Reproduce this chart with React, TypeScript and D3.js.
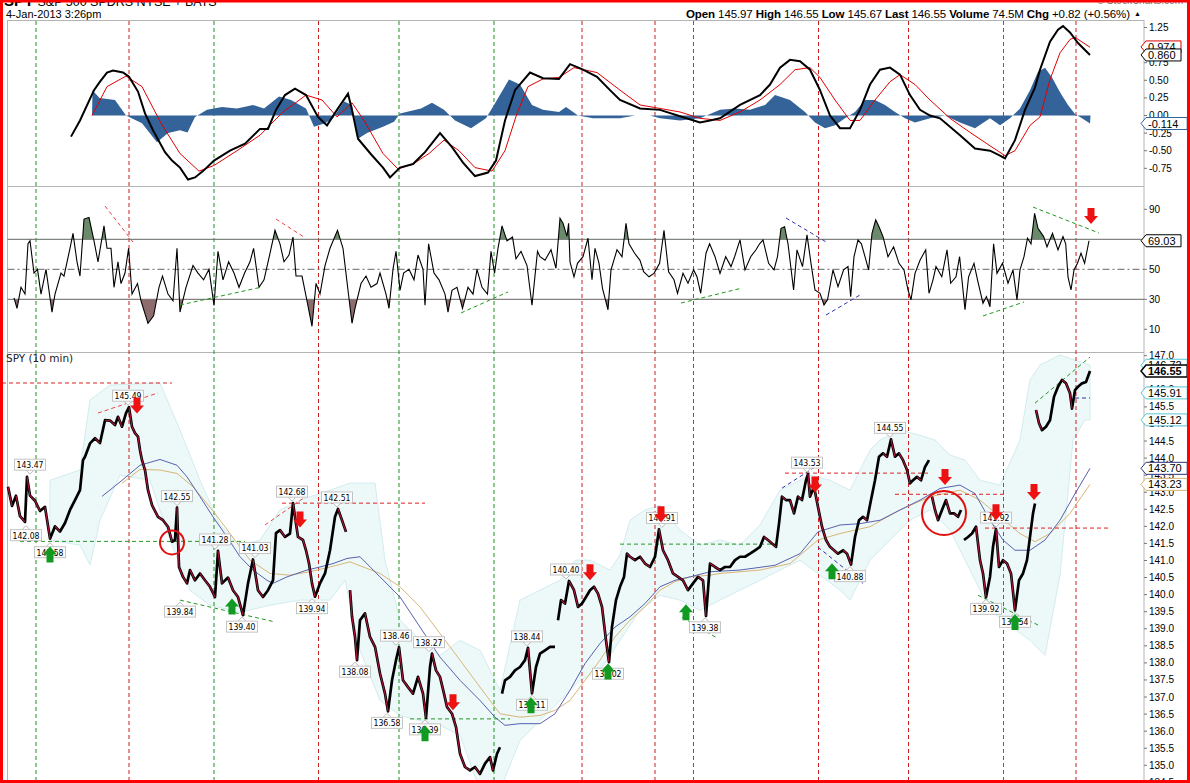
import React from 'react';
import * as d3 from 'd3';

// time axis is in 10-min slot units (0 = first bar on screen)
type Pt = [number, number];
type Px = [number, number | null];

// SPY closes, null = overnight gap
const spyClose: Px[] = [
  [0, 143.16], [4, 142.6], [8, 142.9], [12, 142.3], [17, 142.13], [19, 143.45], [22, 142.9], [27, 142.75],
  [32, 142.45], [37, 142.57], [42, 141.64], [47, 142.0], [52, 141.85], [57, 142.1], [62, 142.48], [67, 142.77],
  [72, 143.06], [75, 143.94], [77, 144.04], [82, 144.43], [87, 144.58], [92, 144.44], [97, 145.11], [102, 145.1],
  [107, 144.97], [110, 145.21], [114, 144.92], [118, 145.32], [121, 145.49], [124, 144.92], [127, 144.73],
  [130, 144.63], [132, 144.23], [134, 143.94], [137, 143.65], [140, 143.06], [144, 142.62], [150, 142.28],
  [155, 142.18], [160, 141.99], [164, 141.55], [167, 141.6], [169, 142.55], [171, 140.81], [175, 140.52],
  [179, 140.33], [182, 140.72], [187, 140.42], [192, 140.62], [197, 140.42], [202, 140.23], [207, 139.93],
  [210, 141.28], [214, 140.33], [220, 140.5], [225, 140.13], [230, 139.93], [235, 139.4], [240, 140.33],
  [245, 141.03], [250, 140.13], [255, 139.93], [260, 140.13], [265, 140.42], [268, 141.8], [272, 141.89],
  [277, 141.69], [282, 141.79], [285, 142.68], [290, 141.69], [295, 141.6], [298, 141.3], [301, 140.91],
  [304, 140.33], [307, 139.94], [312, 140.33], [317, 140.62], [322, 141.3], [327, 142.28], [330, 142.51],
  [334, 142.18], [338, 141.84], [340, null], [342, 140.13], [344, 139.35], [347, 138.76], [349, 138.08],
  [352, 139.25], [357, 139.45], [362, 138.76], [367, 138.47], [372, 137.69], [377, 137.1], [380, 136.58],
  [384, 137.49], [388, 138.08], [391, 138.46], [395, 137.49], [400, 137.29], [405, 137.1], [410, 137.59],
  [415, 137.1], [418, 136.39], [422, 137.88], [424, 138.27], [428, 137.78], [432, 137.59], [436, 137.1],
  [439, 136.71], [444, 136.51], [448, 136.12], [452, 135.34], [457, 134.95], [462, 134.85], [467, 134.95],
  [472, 134.75], [477, 135.05], [482, 135.24], [485, 134.85], [489, 135.34], [492, 135.53], [493, null],
  [494, 137.1], [497, 137.49], [502, 137.59], [507, 137.78], [512, 137.88], [517, 138.08], [520, 138.44],
  [524, 137.11], [528, 137.88], [532, 138.27], [537, 138.37], [542, 138.47], [547, 138.47], [548, null],
  [550, 139.25], [553, 139.84], [557, 139.74], [561, 140.4], [566, 140.13], [570, 139.64], [574, 139.74],
  [578, 139.93], [582, 140.13], [586, 140.23], [590, 140.03], [594, 139.64], [598, 138.66], [601, 138.02],
  [604, 139.06], [608, 139.84], [612, 140.23], [616, 140.52], [619, 141.2], [622, 141.11], [627, 141.01],
  [632, 141.11], [637, 140.91], [642, 140.81], [647, 141.11], [651, 141.91], [655, 141.3], [660, 141.01],
  [665, 140.62], [670, 140.52], [675, 140.42], [680, 140.13], [685, 140.33], [690, 140.52], [695, 140.42],
  [698, 139.38], [702, 140.91], [707, 140.81], [712, 140.72], [717, 140.81], [722, 140.81], [727, 141.01],
  [732, 141.11], [737, 141.11], [742, 141.2], [747, 141.3], [752, 141.4], [756, 141.69], [760, 141.6],
  [764, 141.5], [768, 141.4], [771, 142.08], [774, 142.87], [778, 142.77], [782, 142.77], [786, 142.38],
  [790, 142.87], [794, 142.77], [798, 143.35], [800, 143.53], [802, 142.87], [806, 143.16], [810, 142.57],
  [814, 141.99], [818, 141.6], [822, 141.4], [826, 141.3], [830, 141.2], [835, 141.3], [839, 141.2],
  [843, 140.88], [847, 141.69], [851, 142.18], [855, 142.28], [859, 142.18], [863, 142.77], [867, 143.35],
  [871, 144.04], [875, 144.14], [879, 144.04], [883, 144.55], [887, 144.04], [891, 144.14], [895, 143.94],
  [899, 143.65], [902, 143.26], [905, 143.35], [909, 143.45], [913, 143.35], [917, 143.74], [921, 143.94],
  [922, null], [924, 142.87], [927, 142.48], [930, 142.18], [934, 142.48], [938, 142.77], [942, 142.38],
  [946, 142.38], [950, 142.28], [953, 142.48], [954, null], [956, 141.6], [960, 141.69], [964, 141.79],
  [968, 141.99], [972, 141.01], [975, 140.62], [978, 139.92], [982, 140.52], [985, 141.4], [988, 141.92],
  [991, 140.81], [995, 141.01], [999, 140.91], [1003, 140.62], [1007, 139.54], [1011, 140.42], [1015, 140.62],
  [1019, 141.01], [1022, 141.69], [1025, 142.38], [1027, 142.67], [1027.5, null], [1028, 145.41], [1031, 145.02],
  [1034, 144.82], [1038, 144.92], [1042, 145.11], [1046, 145.8], [1050, 146.09], [1054, 146.29], [1058, 146.19],
  [1062, 145.9], [1064, 145.45], [1067, 145.99], [1070, 146.09], [1074, 146.19], [1078, 146.23], [1082, 146.55],
];

const upperBand: Pt[] = [
  [42, 143.35], [72, 143.65], [82, 145.7], [102, 146.14], [152, 146.2], [172, 144.82], [192, 143.35],
  [212, 142.04], [232, 141.45], [252, 141.6], [272, 142.48], [292, 142.77], [322, 143.06], [342, 143.27],
  [367, 143.27], [377, 141.01], [392, 139.25], [412, 138.66], [432, 138.22], [452, 138.66], [472, 138.37],
  [492, 137.2], [512, 139.84], [532, 140.13], [552, 140.42], [567, 141.01], [582, 141.01], [602, 140.72],
  [612, 141.16], [622, 142.18], [637, 142.48], [652, 142.62], [672, 141.89], [692, 141.45], [712, 141.6],
  [732, 141.45], [752, 142.04], [772, 143.06], [792, 143.35], [802, 143.5], [822, 143.35], [842, 143.06],
  [852, 143.65], [862, 144.23], [872, 144.53], [892, 144.82], [912, 144.67], [927, 144.53], [942, 144.09],
  [957, 143.94], [972, 143.35], [992, 143.21], [1012, 144.53], [1022, 146.29], [1032, 146.73], [1052, 147.02],
  [1082, 146.72],
];
const lowerBand: Pt[] = [
  [42, 141.6], [72, 141.45], [82, 140.87], [92, 142.18], [112, 143.5], [142, 143.35], [162, 141.6],
  [182, 140.13], [202, 139.69], [232, 139.48], [262, 139.69], [292, 139.84], [322, 139.84], [337, 140.42],
  [352, 138.37], [372, 136.9], [392, 136.46], [412, 136.31], [432, 136.17], [452, 135.88], [472, 134.27],
  [492, 134.27], [512, 135.73], [532, 136.31], [552, 136.9], [572, 137.49], [592, 137.78], [612, 138.66],
  [632, 139.54], [652, 139.98], [672, 139.84], [692, 139.54], [712, 139.84], [732, 140.13], [752, 140.42],
  [772, 140.72], [792, 141.01], [812, 140.57], [832, 140.13], [842, 139.84], [862, 141.01], [882, 141.6],
  [902, 142.18], [922, 142.48], [942, 141.89], [962, 140.72], [982, 139.54], [1002, 139.1], [1022, 138.66],
  [1037, 138.22], [1052, 140.57], [1065, 144.53], [1077, 145.12], [1082, 145.12],
];

const maBlue: Pt[] = [
  [94, 142.88], [112, 143.3], [132, 143.79], [152, 143.96], [169, 143.79], [179, 143.45], [192, 142.87],
  [205, 142.28], [219, 141.69], [232, 141.11], [245, 140.72], [259, 140.42], [265, 140.33], [279, 140.52],
  [299, 140.72], [312, 140.81], [325, 140.91], [339, 141.06], [352, 141.11], [372, 140.52], [392, 139.93],
  [412, 139.05], [432, 138.17], [452, 137.49], [472, 136.9], [487, 136.41], [497, 136.17], [512, 136.22],
  [532, 136.22], [547, 136.51], [562, 137.2], [577, 137.98], [592, 138.57], [607, 139.05], [622, 139.35],
  [637, 139.74], [652, 140.23], [667, 140.42], [682, 140.52], [702, 140.67], [732, 140.72], [767, 140.86],
  [792, 141.2], [810, 141.84], [832, 142.04], [852, 142.08], [872, 142.18], [892, 142.48], [912, 142.77],
  [932, 143.11], [952, 143.21], [967, 142.96], [982, 142.18], [995, 141.6], [1007, 141.3], [1022, 141.3],
  [1037, 141.6], [1052, 142.18], [1067, 142.96], [1082, 143.7],
];
const maTan: Pt[] = [
  [114, 143.26], [132, 143.67], [152, 143.65], [169, 143.55], [185, 143.16], [207, 142.38], [222, 141.79],
  [242, 141.01], [262, 140.62], [282, 140.57], [302, 140.67], [322, 140.81], [342, 140.96], [372, 140.62],
  [392, 140.23], [412, 139.64], [432, 138.86], [452, 138.08], [472, 137.29], [492, 136.51], [512, 136.41],
  [532, 136.46], [547, 136.61], [562, 136.9], [577, 137.49], [592, 138.08], [607, 138.76], [622, 139.25],
  [637, 139.64], [652, 140.13], [667, 140.38], [682, 140.52], [702, 140.57], [712, 140.62], [752, 140.72],
  [782, 140.91], [810, 141.6], [832, 141.79], [862, 141.99], [892, 142.48], [922, 142.87], [952, 143.06],
  [972, 142.77], [992, 142.28], [1012, 141.79], [1027, 141.55], [1042, 141.79], [1062, 142.38], [1082, 143.23],
];

const macdLine: Pt[] = [
  [63, -0.3], [72, -0.07], [86, 0.36], [92, 0.48], [99, 0.61], [105, 0.64], [115, 0.61], [121, 0.55],
  [130, 0.34], [137, 0.03], [145, -0.21], [157, -0.52], [164, -0.64], [172, -0.74], [180, -0.91], [187, -0.88],
  [195, -0.79], [206, -0.64], [222, -0.5], [237, -0.4], [252, -0.19], [260, -0.19], [268, 0.08], [277, 0.29],
  [287, 0.38], [298, 0.29], [310, -0.02], [319, -0.14], [329, 0.08], [340, 0.31], [344, 0.08], [350, -0.33],
  [363, -0.55], [375, -0.74], [382, -0.88], [392, -0.74], [405, -0.69], [417, -0.52], [432, -0.25], [444, -0.45],
  [455, -0.67], [467, -0.86], [480, -0.81], [488, -0.64], [497, -0.07], [507, 0.36], [522, 0.61], [535, 0.53],
  [551, 0.52], [562, 0.73], [574, 0.66], [589, 0.55], [602, 0.36], [612, 0.22], [632, 0.1], [652, 0.08],
  [672, -0.01], [692, -0.1], [702, -0.07], [712, -0.04], [732, 0.15], [752, 0.29], [762, 0.44], [772, 0.68],
  [782, 0.79], [792, 0.77], [802, 0.65], [812, 0.36], [822, 0.0], [832, -0.18], [842, -0.18], [852, 0.08],
  [862, 0.44], [872, 0.65], [882, 0.68], [892, 0.58], [902, 0.29], [912, 0.08], [922, 0.0], [932, -0.04],
  [952, -0.28], [967, -0.47], [982, -0.5], [992, -0.57], [997, -0.61], [1007, -0.35], [1017, 0.08], [1027, 0.4],
  [1032, 0.65], [1042, 1.05], [1050, 1.22], [1055, 1.27], [1062, 1.18], [1070, 1.03], [1082, 0.86],
];
const signalLine: Pt[] = [
  [84, 0.0], [99, 0.41], [118, 0.56], [134, 0.41], [153, -0.11], [172, -0.54], [191, -0.79], [206, -0.71],
  [229, -0.5], [252, -0.28], [275, 0.05], [298, 0.29], [314, 0.22], [329, -0.02], [344, 0.18], [356, -0.07],
  [375, -0.54], [390, -0.76], [405, -0.69], [421, -0.54], [436, -0.35], [451, -0.5], [467, -0.74], [484, -0.79],
  [497, -0.5], [509, 0.03], [520, 0.41], [535, 0.52], [551, 0.54], [566, 0.68], [589, 0.61], [612, 0.36],
  [632, 0.15], [652, 0.1], [672, 0.05], [692, -0.04], [712, -0.07], [732, 0.05], [752, 0.22], [772, 0.44],
  [787, 0.65], [802, 0.68], [812, 0.54], [827, 0.22], [842, -0.07], [852, -0.07], [867, 0.22], [882, 0.48],
  [892, 0.58], [907, 0.44], [922, 0.22], [942, -0.04], [962, -0.24], [982, -0.43], [997, -0.57], [1007, -0.5],
  [1022, -0.14], [1032, -0.02], [1042, 0.51], [1052, 0.89], [1062, 1.08], [1067, 1.11], [1082, 0.97],
];
const macdHist: Pt[] = [
  [84, 0.0], [84.5, 0.36], [91.5, 0.25], [107, 0.22], [118, 0.0], [134, -0.11], [145, -0.31], [149, -0.38],
  [160, -0.25], [172, -0.21], [179.5, -0.24], [187, -0.02], [199, 0.08], [214, 0.12], [229, 0.1], [245, 0.15],
  [256, 0.1], [271, 0.27], [283, 0.22], [298, 0.1], [306, -0.16], [317, -0.11], [325, -0.04], [336, 0.2],
  [344, 0.15], [350, -0.33], [359, -0.25], [375, -0.16], [386, -0.09], [392, 0.03], [413, 0.1], [424, 0.18],
  [436, 0.08], [447, -0.07], [463, -0.18], [478, -0.04], [486, 0.15], [501, 0.51], [512, 0.44], [524, 0.15],
  [535, 0.08], [551, 0.05], [558, 0.12], [570, 0.0], [585, -0.04], [597, -0.04], [612, -0.04], [627, 0.0],
  [642, 0.0], [652, -0.04], [672, -0.07], [692, -0.04], [712, 0.08], [727, 0.1], [742, 0.08], [757, 0.15],
  [767, 0.29], [782, 0.22], [797, 0.05], [807, -0.1], [817, -0.18], [827, -0.14], [837, -0.04], [847, 0.05],
  [857, 0.22], [867, 0.22], [877, 0.15], [887, 0.05], [897, -0.04], [907, -0.1], [922, -0.04], [937, 0.0],
  [952, -0.1], [967, -0.18], [982, -0.04], [992, -0.14], [1002, -0.04], [1012, 0.1], [1022, 0.36], [1030, 0.62],
  [1037, 0.68], [1044, 0.54], [1052, 0.33], [1060, 0.15], [1067, 0.02], [1074, -0.04], [1082, -0.114], [1082.5, 0],
];

const rsi14: Pt[] = [
  [6, 31], [9, 24], [13, 38], [17, 33.5], [20, 67], [22, 69], [26, 47.5], [29.5, 50], [33, 33.5], [38, 50],
  [44, 21.5], [47, 33.5], [53, 47.5], [56, 45.5], [62, 64], [65, 74], [69, 55], [72, 45.5], [76, 83.5], [81, 84.5],
  [86, 69], [90, 55], [96, 79], [99, 64], [103, 64], [106, 38], [110, 55], [113, 40.5], [117, 47.5], [120.6, 64],
  [124, 33.5], [129.5, 40.5], [133, 29], [140, 14], [145.6, 19], [151, 38], [154.5, 45.5], [160, 33.5], [165, 29],
  [169, 64], [172, 21.5], [178, 38], [185, 52.5], [190, 47.5], [195.6, 43], [201, 50], [206, 26], [210, 62],
  [215, 43], [220.6, 55], [226, 47.5], [231, 38], [236.6, 47.5], [242, 55], [245.6, 64], [251, 38], [256, 43],
  [261.6, 59.5], [267, 76], [272, 67], [276, 55], [281, 59.5], [285, 71.5], [288, 45.5], [294, 45.5], [299, 29],
  [304, 12], [308, 40.5], [312, 33.5], [317, 52.5], [322, 64], [329.5, 76], [335, 64], [340, 36], [344, 14],
  [347, 24], [353, 40.5], [358, 45.5], [363, 38], [369, 40.5], [372, 47.5], [378, 33.5], [381, 24], [385, 50],
  [388, 62], [392, 36], [395.6, 47.5], [401, 50], [406, 43], [410, 59.5], [415, 50], [417, 26], [420.6, 67],
  [426, 47.5], [431, 43], [437, 33.5], [440, 21.5], [444, 36], [449, 38], [454.5, 24], [460, 38], [465, 33.5],
  [469, 50], [474, 38], [479.5, 33.5], [483, 62], [486.6, 47.5], [490, 64], [494, 79], [499, 69], [504.5, 71.5],
  [508, 57], [513, 62], [519, 52.5], [524, 26], [529.5, 62], [532, 58.4], [537, 56], [543, 63], [548, 50.7],
  [552, 84], [555, 80.7], [559, 72], [560.6, 80.7], [562, 55], [566, 45], [569.5, 54], [575, 58.4], [580, 70.7],
  [584, 43], [587, 64], [591, 54], [594.5, 37.3], [600, 23], [603, 49.6], [609, 63], [614, 58.4], [618, 80.7],
  [621, 67], [626.6, 60.7], [632, 56], [635.6, 48.4], [641, 45], [646, 47.3], [651.6, 54], [656, 76],
  [660.6, 48.4], [666, 43], [669.5, 34], [675, 47.3], [680, 40.7], [685.6, 49.6], [689, 45], [692.7, 34],
  [698, 60.7], [701.6, 67], [707, 58.4], [712, 47.3], [717.7, 58.4], [723, 51.8], [726.6, 58.4], [732, 69.6],
  [737, 49.6], [742.7, 58.4], [748, 63], [751.6, 67], [755, 69.6], [760.6, 54], [766, 49.6], [769.5, 58.4],
  [773, 77.3], [776.6, 78.4], [780, 67], [785.6, 36.2], [789, 63], [794.5, 51.8], [799, 73], [803, 54],
  [807, 36.2], [812, 34], [816, 26.2], [819.5, 29.6], [825, 49.6], [830, 38.4], [835.6, 49.6], [840, 51.8],
  [842.7, 31.8], [846, 58.4], [850, 69.6], [853.4, 67], [857, 58.4], [860.6, 49.6], [864, 74], [867.7, 83],
  [871, 78.4], [875, 71.8], [880, 58.4], [885.6, 65], [891, 54], [896, 49.6], [900, 36.2], [903, 29.6],
  [907, 47.3], [912, 56], [917.7, 63], [921, 34], [925, 43], [928, 51.8], [933.8, 45], [939, 63], [942.7, 40.7],
  [948, 45], [951.6, 58.4], [957, 23], [960.6, 45], [966, 54], [969.5, 43], [975, 27.3], [978.4, 31.8], [982, 25],
  [985.6, 67], [989, 47.3], [994.5, 54], [1000, 40.7], [1005, 49.6], [1009, 29.6], [1012, 49.6], [1016, 58.4],
  [1019.5, 70.7], [1023, 67], [1026.6, 87.3], [1030, 77.3], [1035.6, 71.8], [1039, 65], [1044.5, 74], [1050, 63],
  [1055, 71.8], [1057.7, 67], [1060, 45], [1063, 36.2], [1066, 49.6], [1069.5, 54], [1073, 60.7], [1076.6, 54],
  [1081, 69.03],
];

// cycle marks: g = green (low), r = red (high)
const cycleLines: [number, 'g' | 'r'][] = [
  [28, 'g'], [121, 'r'], [206, 'g'], [310.5, 'r'], [391, 'g'], [486, 'g'], [574, 'r'], [647, 'r'],
  [685.5, 'g'], [810.5, 'r'], [900.5, 'r'], [995.5, 'g'], [1068, 'r'],
];

const swingLabels: [number, number, 'hi' | 'lo'][] = [
  [22, 143.47, 'hi'], [18, 142.08, 'lo'], [42, 141.58, 'lo'], [120, 145.49, 'hi'], [169, 142.55, 'hi'],
  [172, 139.84, 'lo'], [207, 141.28, 'hi'], [234, 139.4, 'lo'], [247, 141.03, 'hi'], [284, 142.68, 'hi'],
  [304, 139.94, 'lo'], [329, 142.51, 'hi'], [347, 138.08, 'lo'], [388, 138.46, 'hi'], [379, 136.58, 'lo'],
  [421, 138.27, 'hi'], [417, 136.39, 'lo'], [519, 138.44, 'hi'], [524, 137.11, 'lo'], [558, 140.4, 'hi'],
  [600, 138.02, 'lo'], [654, 141.91, 'hi'], [697, 139.38, 'lo'], [799, 143.53, 'hi'], [842, 140.88, 'lo'],
  [882, 144.55, 'hi'], [988, 141.92, 'hi'], [978, 139.92, 'lo'], [1007, 139.54, 'lo'],
];

const sellArrows: Pt[] = [
  [129, 145.31], [292, 141.97], [445, 136.61], [582, 140.42], [653, 142.12], [807, 142.99], [937, 143.21],
  [988, 142.18], [1026, 142.77],
];
const buyArrows: Pt[] = [
  [42, 141.41], [224, 139.89], [417, 136.17], [523, 136.99], [600, 137.98], [678, 139.72], [824, 140.92],
  [1007, 139.43],
];

const levelLines: [number, number, number, string][] = [
  [-6, 164, 146.2, '#dd2222'], [12, 237, 141.56, '#229922'], [274, 417, 142.68, '#dd2222'],
  [402, 502, 136.36, '#229922'], [612, 767, 141.48, '#229922'], [777, 920, 143.56, '#dd2222'],
  [887, 997, 142.94, '#dd2222'], [977, 1100, 141.95, '#dd2222'], [1067, 1082, 145.76, '#333399'],
];
const priceTrends: [number, number, number, number, string][] = [
  [90, 145.32, 150, 145.91, '#ee4444'], [172, 139.84, 267, 139.2, '#229922'], [257, 142.04, 300, 142.92, '#ee4444'],
  [674, 139.34, 709, 138.73, '#229922'], [774, 143.12, 807, 143.74, '#3333aa'], [810, 141.39, 855, 140.33, '#3333aa'],
  [970, 139.98, 1030, 139.11, '#229922'], [1027, 145.61, 1082, 146.96, '#229922'],
];
const rsiTrends: [number, number, number, number, string][] = [
  [97, 92.2, 125, 68.2, '#ee4444'], [172, 26.2, 254, 38.2, '#229922'], [268, 83.5, 296, 71.5, '#ee4444'],
  [453, 20.9, 500, 34.9, '#229922'], [673, 27.5, 734, 37.5, '#229922'], [778, 84.2, 820, 67.5, '#3333aa'],
  [818, 19.5, 852, 32.9, '#3333aa'], [975, 18.9, 1016, 28.2, '#229922'], [1025, 91.5, 1091, 74.2, '#229922'],
];
const rings: [number, number, number][] = [[164, 141.53, 12], [936, 142.39, 22]];

const macdTicks = [1.25, 1.0, 0.75, 0.5, 0.25, 0, -0.25, -0.5, -0.75];
const rsiTicks = [90, 70, 50, 30, 10];
const priceTicks = [147, 146.5, 146, 145.5, 145, 144.5, 144, 143.5, 143, 142.5, 142, 141.5, 141, 140.5, 140,
  139.5, 139, 138.5, 138, 137.5, 137, 136.5, 136, 135.5, 135, 134.5];

const FONT = 'Liberation Sans, Arial, sans-serif';
const LEFT = 7.5, RIGHT = 1144;

const x = d3.scaleLinear().domain([0, 1136]).range([8, 1144]);
const yMacd = d3.scaleLinear().domain([-0.75, 1.25]).range([168.3, 27.5]);
const yRsi = d3.scaleLinear().domain([10, 90]).range([329.3, 209.3]);
const yPx = d3.scaleLinear().domain([135, 147]).range([765.3, 355.7]);

const Tag = ({ y, text, stroke, bold }: { y: number; text: string; stroke: string; bold?: boolean }) => {
  const w = text.length * 6.2 + 4;
  return (
    <g>
      <path d={`M1141,${y} L1146,${y - 6} L${1146 + w},${y - 6} L${1146 + w},${y + 6} L1146,${y + 6} Z`}
        fill="#fff" stroke={stroke} strokeWidth={bold ? 1.5 : 1} />
      <text x={1148} y={y + 4} fontSize={11} fontFamily={FONT} fontWeight={bold ? 'bold' : 'normal'}>{text}</text>
    </g>
  );
};

export default function App() {
  const pxLine = d3.line<Px>().defined(d => d[1] !== null).x(d => x(d[0])).y(d => yPx(d[1] as number));
  const ln = (ys: d3.ScaleLinear<number, number>) => d3.line<Pt>().x(d => x(d[0])).y(d => ys(d[1]));

  const bandPoly = ln(yPx)([...upperBand, ...lowerBand.slice().reverse()]) + 'Z';
  const histArea = d3.area<Pt>().x(d => x(d[0])).y0(yMacd(0)).y1(d => yMacd(d[1]));
  const obArea = d3.area<Pt>().x(d => x(d[0])).y0(yRsi(70)).y1(d => yRsi(d[1]));
  const osArea = d3.area<Pt>().x(d => x(d[0])).y0(yRsi(30)).y1(d => yRsi(d[1]));

  const downSegs: { a: Pt; b: Pt }[] = [];
  for (let i = 1; i < spyClose.length; i++) {
    const a = spyClose[i - 1], b = spyClose[i];
    if (a[1] === null || b[1] === null) continue;
    if (b[1] < a[1]) downSegs.push({ a: a as Pt, b: b as Pt });
  }

  const downArrow = (cx: number, ty: number) =>
    `M${cx},${ty} L${cx - 7},${ty - 8} L${cx - 3.5},${ty - 8} L${cx - 3.5},${ty - 16} L${cx + 3.5},${ty - 16} L${cx + 3.5},${ty - 8} L${cx + 7},${ty - 8} Z`;
  const upArrow = (cx: number, ty: number) =>
    `M${cx},${ty} L${cx - 7},${ty + 8} L${cx - 3.5},${ty + 8} L${cx - 3.5},${ty + 16} L${cx + 3.5},${ty + 16} L${cx + 3.5},${ty + 8} L${cx + 7},${ty + 8} Z`;

  return (
    <svg width={1190} height={783} style={{ position: 'fixed', left: 0, top: 0, background: '#fff' }}>
      <defs>
        <clipPath id="cMacd"><rect x={LEFT} y={21} width={RIGHT - LEFT} height={165} /></clipPath>
        <clipPath id="cRsi"><rect x={LEFT} y={187} width={RIGHT - LEFT} height={165} /></clipPath>
        <clipPath id="cOb"><rect x={LEFT} y={187} width={RIGHT - LEFT} height={yRsi(70) - 187} /></clipPath>
        <clipPath id="cOs"><rect x={LEFT} y={yRsi(30)} width={RIGHT - LEFT} height={352 - yRsi(30)} /></clipPath>
        <clipPath id="cPx"><rect x={0} y={353} width={RIGHT} height={430} /></clipPath>
      </defs>
      <rect x={0} y={0} width={1190} height={783} fill="#fff" />

      {/* header */}
      <text x={4} y={6} fontFamily={FONT} fontSize={15} fontWeight="bold">SPY
        <tspan fontWeight="normal" fontSize={12.5}> S&amp;P 500 SPDRS NYSE + BATS</tspan></text>
      <text x={1183} y={4} textAnchor="end" fontFamily={FONT} fontSize={10} fill="#777">© StockCharts.com</text>
      <text x={6} y={18} fontFamily={FONT} fontSize={11}>4-Jan-2013 3:26pm</text>
      <text x={1130} y={17.5} textAnchor="end" fontFamily={FONT} fontSize={11.5} textLength={444} lengthAdjust="spacing">
        <tspan fontWeight="bold">Open</tspan> 145.97  <tspan fontWeight="bold">High</tspan> 146.55  <tspan fontWeight="bold">Low</tspan> 145.67  <tspan fontWeight="bold">Last</tspan> 146.55  <tspan fontWeight="bold">Volume</tspan> 74.5M  <tspan fontWeight="bold">Chg</tspan> +0.82 (+0.56%)
      </text>
      <text x={1134} y={16} fontSize={7} fontFamily={FONT}>▲</text>

      {/* panels */}
      <rect x={LEFT} y={20.5} width={RIGHT - LEFT} height={800} fill="none" stroke="#b4b4b4" />
      <line x1={LEFT} x2={RIGHT} y1={186.5} y2={186.5} stroke="#b4b4b4" />
      <line x1={LEFT} x2={RIGHT} y1={352.5} y2={352.5} stroke="#b4b4b4" />

      {/* price band (under cycle lines) */}
      <g clipPath="url(#cPx)">
        <path d={bandPoly} fill="#edf8f8" stroke="#d2ecef" strokeWidth={1} />
      </g>

      {cycleLines.map(([t, c], i) => (
        <line key={i} x1={x(t)} x2={x(t)} y1={21} y2={783} stroke={c === 'g' ? '#1f8f1f' : '#cc1f1f'}
          strokeDasharray="4,3" />
      ))}

      {/* MACD */}
      <g clipPath="url(#cMacd)">
        <path d={histArea(macdHist) ?? ''} fill="#336399" />
        <path d={ln(yMacd)(signalLine) ?? ''} fill="none" stroke="#e00000" strokeWidth={1} />
        <path d={ln(yMacd)(macdLine) ?? ''} fill="none" stroke="#000" strokeWidth={2} />
      </g>
      {macdTicks.map(v => (
        <g key={v}>
          <line x1={RIGHT} x2={RIGHT + 3} y1={yMacd(v)} y2={yMacd(v)} stroke="#777" />
          <text x={1149} y={yMacd(v) + 3.5} fontSize={10} fontFamily={FONT}>{v.toFixed(2)}</text>
        </g>
      ))}
      <Tag y={yMacd(0.974)} text="0.974" stroke="#e00000" />
      <Tag y={yMacd(0.86)} text="0.860" stroke="#000" />
      <Tag y={yMacd(-0.114)} text="-0.114" stroke="#336399" />

      {/* RSI */}
      <line x1={LEFT} x2={RIGHT} y1={yRsi(70)} y2={yRsi(70)} stroke="#666" />
      <line x1={LEFT} x2={RIGHT} y1={yRsi(30)} y2={yRsi(30)} stroke="#666" />
      <line x1={LEFT} x2={RIGHT} y1={yRsi(50)} y2={yRsi(50)} stroke="#666" strokeDasharray="7,3,2,3" />
      <g clipPath="url(#cRsi)">
        <path d={obArea(rsi14) ?? ''} fill="#6b8a6b" clipPath="url(#cOb)" />
        <path d={osArea(rsi14) ?? ''} fill="#8c6c6c" clipPath="url(#cOs)" />
        <path d={ln(yRsi)(rsi14) ?? ''} fill="none" stroke="#000" strokeWidth={1.1} />
        {rsiTrends.map(([t1, v1, t2, v2, c], i) => (
          <line key={i} x1={x(t1)} y1={yRsi(v1)} x2={x(t2)} y2={yRsi(v2)} stroke={c} strokeDasharray="4,3" />
        ))}
        <path d={downArrow(x(1083), yRsi(80.2))} fill="#ee1111" />
      </g>
      {rsiTicks.map(v => (
        <g key={v}>
          <line x1={RIGHT} x2={RIGHT + 3} y1={yRsi(v)} y2={yRsi(v)} stroke="#777" />
          <text x={1149} y={yRsi(v) + 3.5} fontSize={10} fontFamily={FONT}>{v}</text>
        </g>
      ))}
      <Tag y={yRsi(69.03)} text="69.03" stroke="#000" />

      {/* price panel */}
      <text x={6} y={362} fontSize={10.5} fontFamily="DejaVu Sans, Verdana, sans-serif" fill="#222">SPY (10 min)</text>
      <g clipPath="url(#cPx)">
        <path d={ln(yPx)(maTan) ?? ''} fill="none" stroke="#d9b676" strokeWidth={1} />
        <path d={ln(yPx)(maBlue) ?? ''} fill="none" stroke="#5862ae" strokeWidth={1} />
        {levelLines.map(([t1, t2, p, c], i) => (
          <line key={i} x1={x(t1)} x2={x(t2)} y1={yPx(p)} y2={yPx(p)} stroke={c} strokeDasharray="4,3" />
        ))}
        {priceTrends.map(([t1, p1, t2, p2, c], i) => (
          <line key={i} x1={x(t1)} y1={yPx(p1)} x2={x(t2)} y2={yPx(p2)} stroke={c} strokeDasharray="4,3" />
        ))}
        <path d={pxLine(spyClose) ?? ''} fill="none" stroke="#000" strokeWidth={2.7} strokeLinejoin="round" />
        {downSegs.map(({ a, b }, i) => (
          <line key={i} x1={x(a[0])} y1={yPx(a[1])} x2={x(b[0])} y2={yPx(b[1])} stroke="#b0143a" strokeWidth={1.1} />
        ))}
        {rings.map(([t, p, r], i) => (
          <circle key={i} cx={x(t)} cy={yPx(p)} r={r} fill="none" stroke="#e01010" strokeWidth={2} />
        ))}
        {swingLabels.map(([t, p, side], i) => {
          const cx = x(t), py = yPx(p);
          const top = side === 'hi' ? py - 17 : py + 6;
          const tri = side === 'hi'
            ? `M${cx - 4},${top + 11} L${cx},${top + 15} L${cx + 4},${top + 11}`
            : `M${cx - 4},${top} L${cx},${top - 4} L${cx + 4},${top}`;
          return (
            <g key={i}>
              <path d={tri} fill="#fff" stroke="#bbb" />
              <rect x={cx - 15.5} y={top} width={31} height={11} fill="#fff" stroke="#c4c4c4" />
              <text x={cx} y={top + 9} textAnchor="middle" fontSize={9.5} fontFamily="DejaVu Sans, Verdana, sans-serif"
                textLength={27} lengthAdjust="spacingAndGlyphs">{p.toFixed(2)}</text>
            </g>
          );
        })}
        {sellArrows.map(([t, p], i) => (
          <path key={i} d={downArrow(x(t), yPx(p))} fill="#ee1111" />
        ))}
        {buyArrows.map(([t, p], i) => (
          <path key={i} d={upArrow(x(t), yPx(p))} fill="#119a22" />
        ))}
      </g>
      {priceTicks.map(v => (
        <g key={v}>
          <line x1={RIGHT} x2={RIGHT + 3} y1={yPx(v)} y2={yPx(v)} stroke="#777" />
          <text x={1149} y={yPx(v) + 3.5} fontSize={10} fontFamily={FONT}>{v.toFixed(1)}</text>
        </g>
      ))}
      <Tag y={yPx(146.72)} text="146.72" stroke="#55c8d6" />
      <Tag y={yPx(146.55)} text="146.55" stroke="#000" bold />
      <Tag y={yPx(145.91)} text="145.91" stroke="#55c8d6" />
      <Tag y={yPx(145.12)} text="145.12" stroke="#55c8d6" />
      <Tag y={yPx(143.7)} text="143.70" stroke="#333377" />
      <Tag y={yPx(143.23)} text="143.23" stroke="#d9b676" />

      {/* outer frame */}
      <rect x={1.5} y={1} width={1187} height={780.5} fill="none" stroke="#ff0000" strokeWidth={3} />
    </svg>
  );
}
